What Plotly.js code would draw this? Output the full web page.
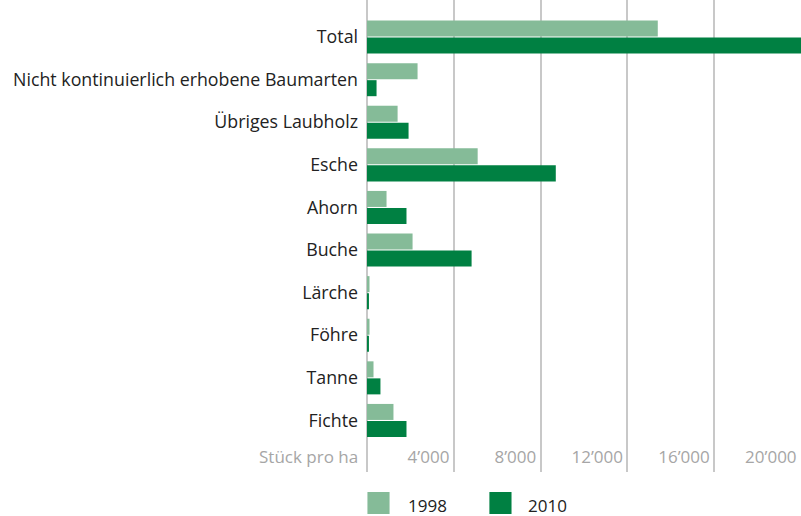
<!DOCTYPE html>
<html>
<head>
<meta charset="utf-8">
<script src="https://cdn.plot.ly/plotly-3.0.1.min.js"></script>
<style>html,body{margin:0;padding:0;background:#fff;}#chart{width:801px;height:516px;}</style>
</head>
<body>
<div id="chart"></div>
<script>
// Categories, top to bottom
const categories = ["Total", "Nicht kontinuierlich erhobene Baumarten", "Übriges Laubholz", "Esche", "Ahorn", "Buche", "Lärche", "Föhre", "Tanne", "Fichte"];
// Stück pro ha
const values1998 = [13400, 2330, 1410, 5100, 900, 2100, 115, 115, 300, 1220];
const values2010 = [20300, 440, 1915, 8700, 1820, 4820, 90, 90, 620, 1820];
const seriesNames = ["1998", "2010"];
const tickValues = [0, 4000, 8000, 12000, 16000, 20000];
const tickLabels = ["Stück pro ha", "4’000", "8’000", "12’000", "16’000", "20’000"];

const colors = ["#85bb98", "#008042"];
const FONT = "Open Sans, Noto Sans, sans-serif";

const traces = [values1998, values2010].map((vals, k) => ({
  type: "bar",
  orientation: "h",
  name: seriesNames[k],
  x: vals,
  y: categories,
  marker: {color: colors[k], line: {width: 0}},
  hoverinfo: "skip",
  showlegend: false
}));

// Legend drawn as large swatches + labels
const legendShapes = [];
const legendAnns = [];
const legX = [0.001, 0.282];
const legTextX = [0.091, 0.366];
seriesNames.forEach((n, k) => {
  legendShapes.push({type: "rect", xref: "paper", yref: "paper",
    x0: legX[k], x1: legX[k] + 0.051, y0: -0.0424, y1: -0.0890,
    fillcolor: colors[k], line: {width: 0}});
  legendAnns.push({xref: "paper", yref: "paper", x: legTextX[k], y: -0.072,
    xanchor: "left", yanchor: "middle", showarrow: false, text: n,
    font: {family: FONT, size: 17, color: "#222"}});
});

const layout = {
  width: 801, height: 516,
  margin: {l: 367, r: 0, t: 0, b: 44, pad: 0},
  paper_bgcolor: "#fff", plot_bgcolor: "#fff",
  barmode: "group", bargap: 0.2, bargroupgap: 0.06,
  showlegend: false,
  font: {family: FONT, size: 17, color: "#222"},
  xaxis: {
    range: [0, 20000], fixedrange: true,
    tickmode: "array", tickvals: tickValues,
    ticktext: tickLabels.map((t, i) => t + (i === 0 ? "\u00a0\u00a0" : "\u00a0")),
    ticklabelposition: "inside left", ticklabeloverflow: "allow",
    tickfont: {family: FONT, size: 17, color: "#a6a6a6"},
    ticks: "", showgrid: true, gridcolor: "#c8c8c8", gridwidth: 2,
    zeroline: true, zerolinecolor: "#c8c8c8", zerolinewidth: 2,
    showline: false
  },
  yaxis: {
    type: "category", range: [10.21, -0.87], fixedrange: true,
    ticks: "", showgrid: false, zeroline: false, showline: false,
    ticklabelstandoff: 8,
    tickfont: {family: FONT, size: 17.8, color: "#222"}
  },
  shapes: legendShapes,
  annotations: legendAnns
};

Plotly.newPlot("chart", traces, layout, {displayModeBar: false, staticPlot: true});
</script>
</body>
</html>
